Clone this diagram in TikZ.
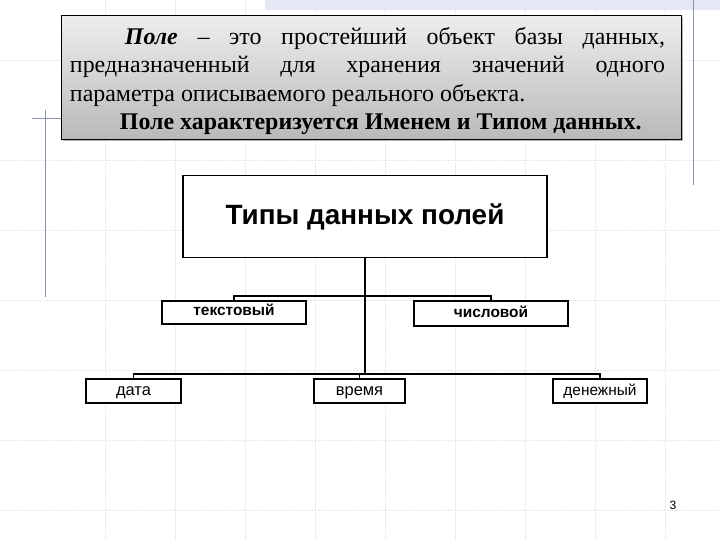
\documentclass[tikz,border=0pt]{standalone}
\usepackage{fontspec}
\setmainfont{Liberation Serif}
\setsansfont{Liberation Sans}
\usepackage{tikz}
\usetikzlibrary{positioning, calc, shadows}
\usepackage{xcolor}
\definecolor{SheetGrid}{HTML}{E6E8EC}
\definecolor{RuleBlue}{HTML}{8A96A8}
\definecolor{BandBlue}{HTML}{E3E8F4}
\definecolor{PanelTop}{HTML}{EDEDED}
\definecolor{PanelBottom}{HTML}{B9B9B9}

\tikzset{
  typebox/.style={draw=black, line width=1.6bp, fill=white, inner sep=0pt,
    text height=8.5bp, text depth=0bp, font=\sffamily\fontsize{16.5}{16.5}\selectfont},
  branch/.style={draw=black, line width=1.6bp}
}

\begin{document}
\begin{tikzpicture}[x=1bp, y=-1bp]
  \useasboundingbox (0,0) rectangle (720,540);
  \fill[white] (0,0) rectangle (720,540);
  % faint sheet grid
  \foreach \gx in {105,175,245,315,385,455,525,595,665}
    \draw[SheetGrid, densely dotted] (\gx,0) -- (\gx,540);
  \foreach \gy in {60,160,230,300,370,440,510}
    \draw[SheetGrid, densely dotted] (0,\gy) -- (720,\gy);
  \fill[BandBlue] (265,0) rectangle (720,10);
  \draw[RuleBlue, thin] (45,110) -- (45,297);
  \draw[RuleBlue, thin] (32,118) -- (62,118);
  \draw[RuleBlue, thin] (693,0) -- (693,185);

  % definition panel
  \node[draw=black, line width=1bp, top color=PanelTop, bottom color=PanelBottom,
        drop shadow={shadow xshift=1.5bp, shadow yshift=-1.5bp, opacity=0.6},
        minimum width=619bp, minimum height=124bp, inner sep=0pt] (panel) at (371.5,78) {};
  \node[text width=595bp, align=justify, inner sep=0pt,
        font=\fontsize{24}{28.7}\selectfont] (deftext) at (367.5,81)
    {\parindent=55bp\indent\textbf{\textit{Поле}} – это простейший объект базы данных,\linebreak
     предназначенный для хранения значений одного\linebreak
     параметра описываемого реального объекта.\par
     \parindent=50bp\indent\textbf{Поле характеризуется Именем и Типом данных.}};

  % tree of field types
  \node[typebox, minimum width=364bp, minimum height=82bp, text height=, text depth=,
        font=\sffamily\bfseries\fontsize{28}{28}\selectfont] (fieldtypes) at (365,216.5) {Типы данных полей};
  \node[typebox, font=\sffamily\bfseries\fontsize{15.5}{15.5}\selectfont, text depth=3bp,
        minimum width=144bp, minimum height=23bp] (text) at (234,312.5) {текстовый};
  \node[typebox, font=\sffamily\bfseries\fontsize{15.5}{15.5}\selectfont,
        minimum width=154bp, minimum height=25bp] (number) at (491,313.5) {числовой};
  \node[typebox, minimum width=95bp, minimum height=24bp] (date) at (133.5,391) {дата};
  \node[typebox, minimum width=91bp, minimum height=24bp] (time) at (359.5,391) {время};
  \node[typebox, minimum width=94bp, minimum height=24bp,
        font=\sffamily\fontsize{15.5}{15.5}\selectfont] (money) at (600,391) {денежный};

  \coordinate (trunk) at (fieldtypes.south |- 0,375);
  \draw[branch] (fieldtypes.south) -- (trunk);
  \draw[branch] (text.north) -- ++(0,-4) -| (number.north);
  \draw[branch] (date.north) -- ++(0,-4) -| (money.north);
  \draw[branch] (time.north) -- (time.north |- trunk);

  \node[font=\sffamily\fontsize{12}{12}\selectfont] (pagenum) at (673,505) {3};
\end{tikzpicture}
\end{document}
